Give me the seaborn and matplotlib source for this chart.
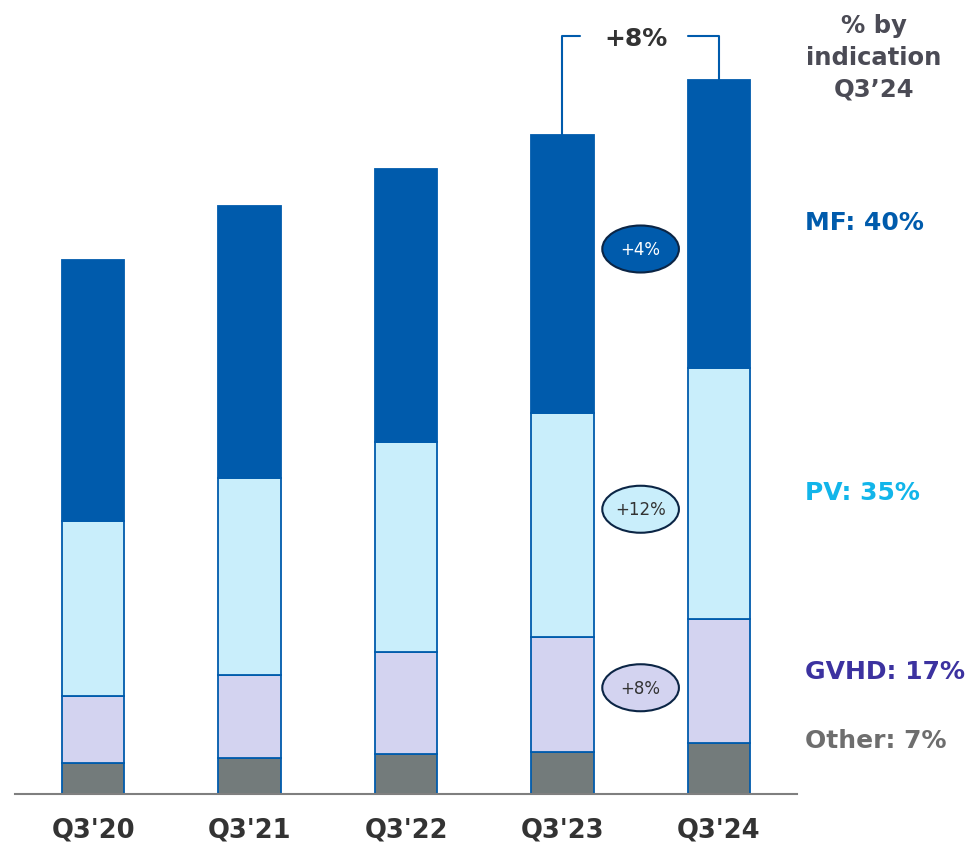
import numpy as np
import pandas as pd
import matplotlib
matplotlib.use('Agg')
import matplotlib.pyplot as plt
import seaborn as sns
from matplotlib.patches import Ellipse

## data (arbitrary units)
quarters = ["Q3'20", "Q3'21", "Q3'22", "Q3'23", "Q3'24"]
other = [31, 36, 40, 42, 51]
gvhd = [67, 83, 102, 115, 124]
pv = [175, 197, 210, 224, 251]
mf = [261, 272, 273, 278, 288]

segments = ['Other', 'GVHD', 'PV', 'MF']
seg_values = [other, gvhd, pv, mf]
seg_colors = ['#737b7b', '#d3d3f0', '#c9eefb', '#005bac']

side_labels = ['Other: 7%', 'GVHD: 17%', 'PV: 35%', 'MF: 40%']
side_colors = ['#6e6e6e', '#3c32a0', '#12b5ea', '#005bac']
side_y = [54, 123, 302, 572]

growth_labels = ['+8%', '+12%', '+4%']   # GVHD, PV, MF (Q3'24 vs Q3'23)
growth_text_colors = ['#333333', '#333333', 'white']
total_growth = '+8%'

## config
sns.set_theme(style='white')
plt.rcParams['font.family'] = ['DejaVu Sans']

df = pd.DataFrame({'quarter': quarters})
for name, vals in zip(segments, seg_values):
    df[name] = vals

fig = plt.figure(figsize=(9.68, 8.45), dpi=100)
ax = fig.add_axes([15 / 968, 50 / 845, 782 / 968, 795 / 845])

# stacked bars
bottom = np.zeros(len(quarters))
for name, col in zip(segments, seg_colors):
    sns.barplot(data=df, x='quarter', y=name, bottom=bottom, color=col,
                width=0.4, edgecolor='#005bac', linewidth=1.3,
                saturation=1, ax=ax)
    bottom = bottom + df[name].values

ax.set_xlim(-0.5, 4.5)
ax.set_ylim(0, 795)
ax.set_xlabel('')
ax.set_ylabel('')
ax.set_yticks([])
for s in ['top', 'right', 'left']:
    ax.spines[s].set_visible(False)
ax.spines['bottom'].set_color('#7f7f7f')
ax.spines['bottom'].set_linewidth(1.5)
ax.tick_params(axis='x', length=0, pad=16)
for lab in ax.get_xticklabels():
    lab.set_fontsize(18.5)
    lab.set_fontweight('bold')
    lab.set_color('#333333')

# growth ellipses between last two bars
cum = np.cumsum(np.array(seg_values), axis=0)
for i in range(1, 4):
    top23, top24 = cum[i][3], cum[i][4]
    bot23, bot24 = top23 - seg_values[i][3], top24 - seg_values[i][4]
    yc = ((top23 + bot23) / 2 + (top24 + bot24) / 2) / 2
    e = Ellipse((3.5, yc), 0.49, 47, facecolor=seg_colors[i],
                edgecolor='#0b2545', linewidth=1.5, zorder=5)
    ax.add_patch(e)
    ax.text(3.5, yc, growth_labels[i - 1], ha='center', va='center',
            fontsize=12, color=growth_text_colors[i - 1], zorder=6)

# total growth bracket
tot23, tot24 = cum[-1][3], cum[-1][4]
yb = 758
ax.plot([3, 3, 3.11], [tot23, yb, yb], color='#005bac', lw=1.5, clip_on=False)
ax.plot([3.80, 4, 4], [yb, yb, tot24], color='#005bac', lw=1.5, clip_on=False)
ax.text(3.47, yb - 2, total_growth, ha='center', va='center', fontsize=18,
        fontweight='bold', color='#333333')

# right side labels
for lab, c, y in zip(side_labels, side_colors, side_y):
    fig.text(805 / 968, y / 845 + 50 / 845, lab, ha='left', va='center',
             fontsize=18, fontweight='bold', color=c)
fig.text(874 / 968, 1 - 58 / 845, '% by\nindication\nQ3\u201924', ha='center',
         va='center', fontsize=17.5, fontweight='bold', color='#4b4b55',
         linespacing=1.4)

fig.savefig('out.png', dpi=100)
